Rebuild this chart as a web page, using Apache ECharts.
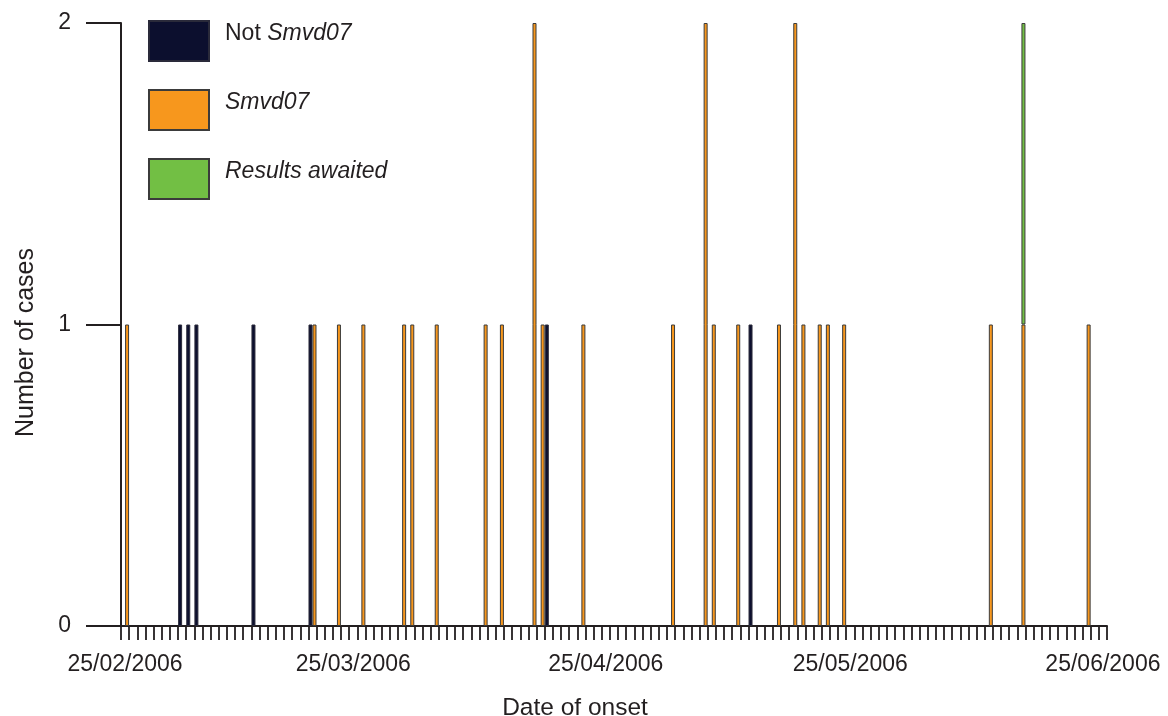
<!DOCTYPE html>
<html>
<head>
<meta charset="utf-8">
<style>
  html, body { margin: 0; padding: 0; background: #ffffff; }
  #chart { width: 1168px; height: 716px; }
</style>
<script src="https://cdn.jsdelivr.net/npm/echarts@6/dist/echarts.min.js"></script>
</head>
<body>
<div id="chart"></div>
<script>
// ---- Data ----
// Daily date axis: 25/02/2006 .. 25/06/2006
const axisStart = [2006, 1, 25];   // year, monthIndex, day
const axisDays = 121;
// dates that carry a tick label
const labelledDates = ['25/02/2006', '25/03/2006', '25/04/2006', '25/05/2006', '25/06/2006'];
const yTicks = [0, 1, 2];

// cases per date of onset
const notSmvd07 = [
  ['04/03/2006', 1], ['05/03/2006', 1], ['06/03/2006', 1], ['13/03/2006', 1],
  ['20/03/2006', 1], ['18/04/2006', 1], ['13/05/2006', 1]
];
const smvd07 = [
  ['25/02/2006', 1], ['20/03/2006', 1], ['23/03/2006', 1], ['26/03/2006', 1],
  ['31/03/2006', 1], ['01/04/2006', 1], ['04/04/2006', 1], ['10/04/2006', 1],
  ['12/04/2006', 1], ['16/04/2006', 2], ['17/04/2006', 1], ['22/04/2006', 1],
  ['03/05/2006', 1], ['07/05/2006', 2], ['08/05/2006', 1], ['11/05/2006', 1],
  ['16/05/2006', 1], ['18/05/2006', 2], ['19/05/2006', 1], ['21/05/2006', 1],
  ['22/05/2006', 1], ['24/05/2006', 1], ['11/06/2006', 1], ['15/06/2006', 1],
  ['23/06/2006', 1]
];
const resultsAwaited = [
  ['15/06/2006', 1]
];

// ---- Build categories (calendar days) ----
function fmt(d) {
  const dd = String(d.getDate()).padStart(2, '0');
  const mm = String(d.getMonth() + 1).padStart(2, '0');
  return dd + '/' + mm + '/' + d.getFullYear();
}
const categories = [];
for (let i = 0; i < axisDays; i++) {
  categories.push(fmt(new Date(axisStart[0], axisStart[1], axisStart[2] + i)));
}
const labelIdx = labelledDates.map(d => categories.indexOf(d));

const TXT = '#231f20';
const FONT = 'Liberation Sans, Arial, sans-serif';
const BORDER = '#3b3b3b';

const chart = echarts.init(document.getElementById('chart'), null, { renderer: 'canvas' });
chart.setOption({
  animation: false,
  backgroundColor: '#ffffff',
  textStyle: { fontFamily: FONT, color: TXT },
  grid: { left: 121, right: 61, top: 23, bottom: 90, containLabel: false, outerBoundsMode: 'none' },
  legend: {
    orient: 'vertical',
    left: 148,
    top: 20,
    padding: 0,
    itemWidth: 60,
    itemHeight: 40,
    itemGap: 27,
    icon: 'rect',
    selectedMode: false,
    data: ['Not Smvd07', 'Smvd07', 'Results awaited'],
    formatter: function (name) {
      if (name === 'Not Smvd07') return '{n|Not }{i|Smvd07}';
      return '{i|' + name + '}';
    },
    textStyle: {
      fontFamily: FONT,
      fontSize: 23,
      color: TXT,
      padding: [0, 0, 14, 11],
      rich: {
        n: { fontFamily: FONT, fontSize: 23, color: TXT, fontStyle: 'normal' },
        i: { fontFamily: FONT, fontSize: 23, color: TXT, fontStyle: 'italic' }
      }
    }
  },
  xAxis: {
    type: 'category',
    data: categories,
    boundaryGap: true,
    axisLine: { show: true, lineStyle: { color: TXT, width: 2 } },
    axisTick: { show: true, interval: 0, length: 14, lineStyle: { color: TXT, width: 1.8 } },
    axisLabel: {
      interval: function (index) { return labelIdx.indexOf(index) !== -1; },
      margin: 27,
      fontSize: 23,
      fontFamily: FONT,
      color: TXT
    },
    splitLine: { show: false },
    name: 'Date of onset',
    nameLocation: 'middle',
    nameGap: 70,
    nameTextStyle: { fontSize: 24.5, fontFamily: FONT, color: TXT, padding: [0, 78, 0, 0] }
  },
  yAxis: {
    type: 'value',
    min: yTicks[0],
    max: yTicks[yTicks.length - 1],
    interval: 1,
    axisLine: { show: true, lineStyle: { color: TXT, width: 2 } },
    axisTick: { show: true, length: 35, lineStyle: { color: TXT, width: 2 } },
    axisLabel: { margin: 50, fontSize: 23, fontFamily: FONT, color: TXT },
    splitLine: { show: false },
    name: 'Number of cases',
    nameLocation: 'middle',
    nameRotate: 90,
    nameGap: 82,
    nameTextStyle: { fontSize: 25, fontFamily: FONT, color: TXT, padding: [0, 36, 0, 0] }
  },
  series: [
    {
      name: 'Not Smvd07',
      type: 'bar',
      stack: 'other',
      barWidth: 4,
      barGap: '0%',
      data: notSmvd07,
      itemStyle: { color: '#0c0f2e', borderColor: '#2a2a3a', borderWidth: 1 }
    },
    {
      name: 'Smvd07',
      type: 'bar',
      stack: 'smvd',
      barWidth: 4,
      barGap: '0%',
      data: smvd07,
      itemStyle: { color: '#f7971d', borderColor: BORDER, borderWidth: 1 }
    },
    {
      name: 'Results awaited',
      type: 'bar',
      stack: 'smvd',
      barWidth: 4,
      barGap: '0%',
      data: resultsAwaited,
      itemStyle: { color: '#72bf44', borderColor: BORDER, borderWidth: 1 }
    }
  ]
});
</script>
</body>
</html>
